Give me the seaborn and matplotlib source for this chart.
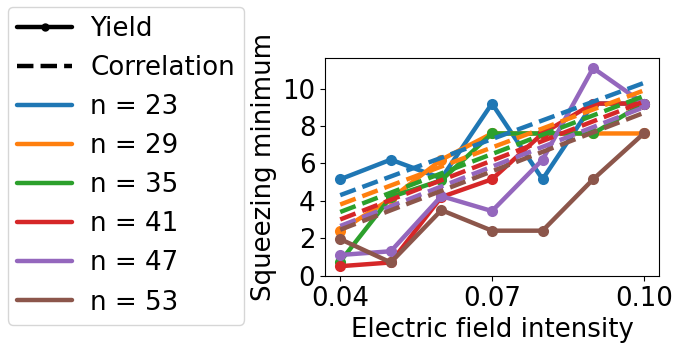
import numpy as np
import pandas as pd
import matplotlib
matplotlib.use("Agg")
import matplotlib.pyplot as plt
from matplotlib.lines import Line2D
import seaborn as sns

field = [0.04, 0.05, 0.06, 0.07, 0.08, 0.09, 0.10]
n_labels = ["n = 23", "n = 29", "n = 35", "n = 41", "n = 47", "n = 53"]
yield_23 = [5.15, 6.2, 5.2, 9.2, 5.15, 9.2, 9.2]
yield_29 = [2.4, 4.1, 6.2, 7.6, 7.6, 7.6, 7.6]
yield_35 = [0.75, 4.2, 5.1, 7.6, 7.6, 7.6, 9.2]
yield_41 = [0.5, 0.7, 4.2, 5.15, 7.6, 9.2, 9.2]
yield_47 = [1.1, 1.3, 4.25, 3.45, 6.2, 11.1, 9.2]
yield_53 = [1.95, 0.7, 3.5, 2.4, 2.4, 5.15, 7.6]
corr_x = [0.04, 0.10]
corr_23 = [4.3, 10.3]
corr_29 = [3.8, 9.9]
corr_35 = [3.4, 9.6]
corr_41 = [3.0, 9.3]
corr_47 = [2.65, 9.0]
corr_53 = [2.45, 8.7]

yields = [yield_23, yield_29, yield_35, yield_41, yield_47, yield_53]
corrs = [corr_23, corr_29, corr_35, corr_41, corr_47, corr_53]

sns.set_style("ticks", {"axes.edgecolor": "black", "text.color": "black",
                        "axes.labelcolor": "black", "xtick.color": "black",
                        "ytick.color": "black"})
plt.rcParams['font.family'] = ['DejaVu Sans']
FS = 18.7
LFS = 18.8

rows = []
for lab, ys in zip(n_labels, yields):
    for x, y in zip(field, ys):
        rows.append({"x": x, "y": y, "n": lab})
df = pd.DataFrame(rows)
crows = []
for lab, ys in zip(n_labels, corrs):
    for x, y in zip(corr_x, ys):
        crows.append({"x": x, "y": y, "n": lab})
cdf = pd.DataFrame(crows)

palette = sns.color_palette("tab10", 6)

fig = plt.figure(figsize=(6.8, 3.46), dpi=100)
ax = fig.add_axes([0.478, 0.202, 0.491, 0.630])

sns.lineplot(data=df, x="x", y="y", hue="n", palette=palette, marker="o",
             markersize=8, markeredgewidth=0, linewidth=3.2, ax=ax, legend=False)
sns.lineplot(data=cdf, x="x", y="y", hue="n", palette=palette,
             linewidth=3.2, ax=ax, legend=False, dashes=False)
for line in ax.lines[len(n_labels):]:
    line.set_linestyle("--")

ax.set_xticks([0.04, 0.07, 0.10])
ax.set_xticklabels(["0.04", "0.07", "0.10"])
ax.set_yticks([0, 2, 4, 6, 8, 10])
ax.tick_params(labelsize=FS)
ax.set_xlabel("Electric field intensity", fontsize=FS)
ax.set_ylabel("Squeezing minimum", fontsize=FS)
for s in ax.spines.values():
    s.set_visible(True)

handles = [Line2D([], [], color="black", lw=3.2, marker="o", markersize=5),
           Line2D([], [], color="black", lw=3.2, linestyle="--")]
handles += [Line2D([], [], color=c, lw=3.2) for c in palette]
labels = ["Yield", "Correlation"] + n_labels
fig.legend(handles, labels, loc="upper left", bbox_to_anchor=(8/680, 1 - 7/346),
           fontsize=LFS, frameon=True, borderaxespad=0, handlelength=2.1,
           handletextpad=0.7, borderpad=0.35)

fig.savefig("out.png", dpi=100)
